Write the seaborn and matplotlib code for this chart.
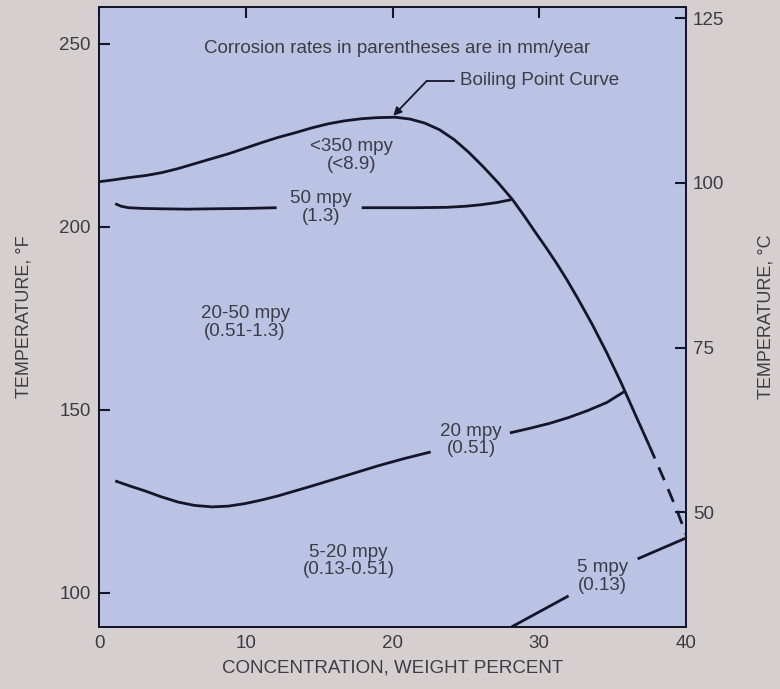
import matplotlib
matplotlib.use("Agg")
import matplotlib.pyplot as plt
import seaborn as sns
import pandas as pd
import numpy as np

# ---- data (x = wt %, y = deg F) ----
boil_x = [0.0, 1.0, 2.0, 3.2, 4.3, 5.4, 6.5, 7.6, 8.8, 10.0, 11.1, 12.2, 13.4, 14.5, 15.6,
          16.7, 17.9, 19.0, 20.2, 21.2, 22.2, 23.2, 24.2, 25.2, 26.2, 27.2, 28.2, 29.0,
          29.8, 30.5, 31.2, 31.9, 32.6, 33.6, 34.6, 35.6, 36.6, 37.5]
boil_y = [212.3, 212.8, 213.4, 214.0, 214.8, 215.9, 217.2, 218.5, 219.9, 221.5, 223.0,
          224.4, 225.7, 227.0, 228.1, 228.9, 229.5, 229.8, 229.9, 229.4, 228.3, 226.5,
          223.8, 220.3, 216.3, 212.0, 207.3, 202.8, 198.1, 194.1, 189.9, 185.4, 180.6,
          173.4, 165.6, 157.2, 148.2, 140.2]
boil_dash_x = [37.5, 38.5, 39.4, 40.0]
boil_dash_y = [140.2, 131.0, 122.4, 116.0]

mpy50_a_x = [1.1, 1.5, 2.0, 3.0, 4.3, 6.0, 7.7, 10.0, 12.1]
mpy50_a_y = [206.3, 205.6, 205.2, 205.0, 204.9, 204.8, 204.9, 205.0, 205.2]
mpy50_b_x = [17.9, 19.1, 21.5, 23.7, 25.0, 26.0, 27.1, 28.1]
mpy50_b_y = [205.2, 205.2, 205.2, 205.3, 205.6, 206.0, 206.6, 207.4]

mpy20_a_x = [1.1, 2.1, 3.1, 4.2, 5.4, 6.5, 7.7, 8.8, 9.95, 11.1, 12.2, 14.5, 16.8,
             19.0, 20.8, 22.6]
mpy20_a_y = [130.6, 129.2, 127.9, 126.3, 124.8, 123.9, 123.5, 123.7, 124.4, 125.4,
             126.5, 129.2, 132.0, 134.7, 136.7, 138.5]
mpy20_b_x = [28.0, 29.4, 30.7, 32.0, 33.3, 34.6, 35.8]
mpy20_b_y = [143.7, 145.0, 146.3, 147.9, 149.8, 152.0, 155.0]

mpy5_a_x = [28.1, 32.0]
mpy5_a_y = [90.7, 99.2]
mpy5_b_x = [36.7, 40.0]
mpy5_b_y = [109.3, 115.0]

region_labels = ["<350 mpy\n(<8.9)", "50 mpy\n(1.3)", "20-50 mpy\n(0.51-1.3)",
                 "20 mpy\n(0.51)", "5-20 mpy\n(0.13-0.51)", "5 mpy\n(0.13)"]
region_x = [17.2, 15.1, 9.95, 25.35, 17.0, 34.3]
region_y = [219.4, 205.2, 173.8, 141.8, 108.7, 104.4]

x_ticks = [0, 10, 20, 30, 40]
f_ticks = [100, 150, 200, 250]
c_ticks = [50, 75, 100, 125]

note_text = "Corrosion rates in parentheses are in mm/year"
boil_label = "Boiling Point Curve"

# ---- style ----
sns.set_style("white")
plt.rcParams["font.family"] = ["Liberation Sans", "DejaVu Sans"]
txt_col = "#3c3c46"
line_col = "#15152a"
fig_bg = "#d6cfcf"
ax_bg = "#bac3e3"
fs = 13.5

fig = plt.figure(figsize=(7.8, 6.89), dpi=100, facecolor=fig_bg)
ax = fig.add_axes([0.127, 0.090, 0.7525, 0.8998])
ax.set_facecolor(ax_bg)

def seg(xs, ys, **kw):
    df = pd.DataFrame({"x": xs, "y": ys})
    sns.lineplot(data=df, x="x", y="y", ax=ax, sort=False, estimator=None,
                 color=line_col, lw=2.0, solid_joinstyle="round",
                 solid_capstyle="butt", **kw)

seg(boil_x, boil_y)
seg(boil_dash_x, boil_dash_y, linestyle=(0, (5, 3.5)))
seg(mpy50_a_x, mpy50_a_y)
seg(mpy50_b_x, mpy50_b_y)
seg(mpy20_a_x, mpy20_a_y)
seg(mpy20_b_x, mpy20_b_y)
seg(mpy5_a_x, mpy5_a_y)
seg(mpy5_b_x, mpy5_b_y)

ax.set_xlim(0, 40)
ax.set_ylim(90.7, 260)
ax.set_xticks(x_ticks)
ax.set_yticks(f_ticks)
ax.set_xlabel("CONCENTRATION, WEIGHT PERCENT", fontsize=fs, color=txt_col, labelpad=5)
ax.set_ylabel("TEMPERATURE, °F", fontsize=13, color=txt_col, labelpad=19)
ax.tick_params(axis="both", direction="in", length=8, width=1.5, colors=line_col,
               labelcolor=txt_col, labelsize=fs)
ax.tick_params(axis="x", top=True, labeltop=False, pad=6)
ax.tick_params(axis="y", pad=6)
for s in ax.spines.values():
    s.set_color(line_col)
    s.set_linewidth(1.4)

for t, x, y in zip(region_labels, region_x, region_y):
    ax.text(x, y, t, ha="center", va="center", fontsize=fs, color=txt_col,
            linespacing=1.05)

ax.text(20.3, 248.6, note_text, ha="center", va="center", fontsize=fs, color=txt_col)
ax.text(24.6, 239.9, boil_label, ha="left", va="center", fontsize=fs, color=txt_col)
ax.plot([24.2, 22.35], [239.9, 239.9], color=line_col, lw=1.3)
ax.annotate("", xy=(20.05, 230.3), xytext=(22.35, 239.9),
            arrowprops=dict(arrowstyle="-|>", color=line_col, lw=1.3,
                            mutation_scale=12, shrinkA=0, shrinkB=0))

# right axis in deg C
ax2 = ax.twinx()
ylo, yhi = ax.get_ylim()
ax2.set_ylim((ylo - 32) * 5 / 9, (yhi - 32) * 5 / 9)
ax2.set_yticks(c_ticks)
ax2.tick_params(axis="y", direction="in", length=8, width=1.5, colors=line_col,
                labelcolor=txt_col, labelsize=fs, pad=5)
ax2.set_ylabel("TEMPERATURE, °C", fontsize=13, color=txt_col, labelpad=24)
for s in ax2.spines.values():
    s.set_color(line_col)
    s.set_linewidth(1.4)
ax2.grid(False)

fig.savefig("out.png", dpi=100, facecolor=fig_bg)
